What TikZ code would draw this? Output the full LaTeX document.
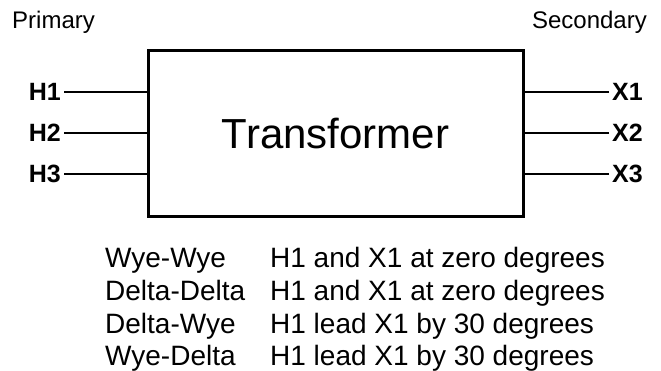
\documentclass[tikz,border=0pt]{standalone}
\usepackage{fontspec}
\setmainfont{Liberation Sans}
\begin{document}
\begin{tikzpicture}[x=1pt,y=-1pt,
  lbl/.style={font=\fontsize{24}{24}\selectfont, inner sep=0pt},
  term/.style={font=\fontsize{25}{25}\selectfont\bfseries, inner ysep=0pt, inner xsep=3pt},
  wire/.style={line width=2pt},
  tbl/.style={font=\fontsize{28}{28}\selectfont, inner sep=0pt, anchor=base west},
  boxst/.style={draw, line width=3pt, minimum width=375pt, minimum height=166pt, inner sep=0pt,
    font=\fontsize{42}{42}\selectfont}]
\useasboundingbox (0,0) rectangle (661,370);
% transformer block
\node[boxst] (tr) at (335.5,133.5) {Transformer};
% side labels
\node[lbl, anchor=base west] (pri) at (12,28.3) {Primary};
\node[lbl, anchor=base east] (sec) at (647,28.3) {Secondary};
% primary terminals
\node[term, anchor=east] (h1) at (64,92) {H1};
\node[term, anchor=east] (h2) at (64,133) {H2};
\node[term, anchor=east] (h3) at (64,174) {H3};
% secondary terminals
\node[term, anchor=west] (x1) at (609,92) {X1};
\node[term, anchor=west] (x2) at (609,133) {X2};
\node[term, anchor=west] (x3) at (609,174) {X3};
% wires
\draw[wire] (h1.east) -- (h1.east -| tr.west);
\draw[wire] (h2.east) -- (h2.east -| tr.west);
\draw[wire] (h3.east) -- (h3.east -| tr.west);
\draw[wire] (x1.west) -- (x1.west -| tr.east);
\draw[wire] (x2.west) -- (x2.west -| tr.east);
\draw[wire] (x3.west) -- (x3.west -| tr.east);
% table
\node[tbl] (c1a) at (105,267) {Wye-Wye};
\node[tbl] (c1b) at (105,300) {Delta-Delta};
\node[tbl] (c1c) at (105,333) {Delta-Wye};
\node[tbl] (c1d) at (105,365) {Wye-Delta};
\node[tbl] (c2a) at (270,267) {H1 and X1 at zero degrees};
\node[tbl] (c2b) at (270,300) {H1 and X1 at zero degrees};
\node[tbl] (c2c) at (270,333) {H1 lead X1 by 30 degrees};
\node[tbl] (c2d) at (270,365) {H1 lead X1 by 30 degrees};
\end{tikzpicture}
\end{document}
